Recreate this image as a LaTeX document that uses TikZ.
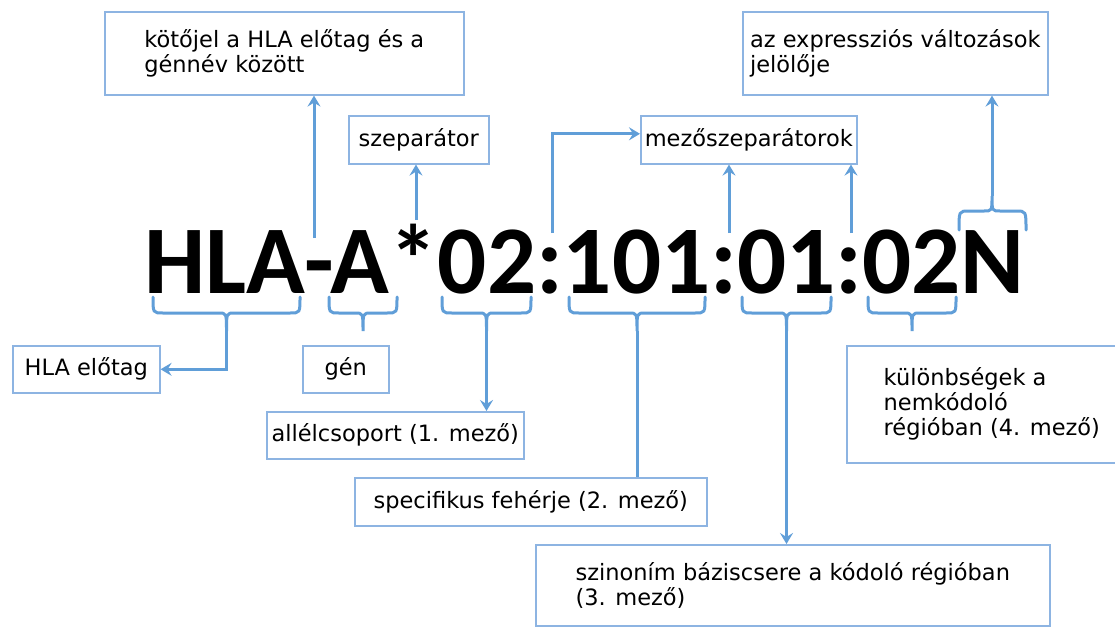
\documentclass[tikz,border=0pt]{standalone}
\usepackage{fontspec}
\setmainfont{DejaVu Sans}
\newfontfamily\codefont{Carlito}
\usetikzlibrary{arrows.meta}
\definecolor{lineBlue}{RGB}{96,158,216}
\definecolor{boxBlue}{RGB}{141,180,226}

\begin{document}
\begin{tikzpicture}[x=1pt,y=-1pt,
  box/.style={draw=boxBlue,line width=1.6pt,align=left,inner sep=0pt,anchor=north west,
    font=\fontsize{22.5pt}{25pt}\selectfont},
  link/.style={draw=lineBlue,line width=3pt},
  arrowLink/.style={link,-{Stealth[length=11pt,width=13pt,inset=4pt]}},
  brace/.style={draw=lineBlue,line width=3pt,line cap=round}]
   \newcommand{\lowBrace}[3]{
        \pgfmathsetmacro{\braceMid}{(#1+#2)/2}
        \draw[brace] (#1,297) .. controls (#1,313) .. (#1+10,313) -- (\braceMid-8,313)
            .. controls (\braceMid,313) .. (\braceMid,331)
            .. controls (\braceMid,313) .. (\braceMid+8,313)
            -- (#2-10,313) .. controls (#2,313) .. (#2,297);
        \coordinate (#3) at (\braceMid,331);
    }
  \fill[white,use as bounding box] (0,0) rectangle (1115,626);

  \node[box,minimum width=359pt,minimum height=83pt] (hyphenNote) at (104,11)
    {kötőjel a HLA előtag és a\\génnév között};
  \node[box,minimum width=140pt,minimum height=48pt] (sepNote) at (348,115) {szeparátor};
  \node[box,minimum width=216pt,minimum height=48pt] (fieldSepNote) at (640,115) {mezőszeparátorok};
  \node[box,minimum width=305pt,minimum height=83pt] (exprNote) at (742,11)
    {az expressziós változások\\jelölője};
  \node[box,minimum width=147pt,minimum height=47pt] (prefixNote) at (12,345) {HLA előtag};
  \node[box,minimum width=86pt,minimum height=47pt] (geneNote) at (302,345) {gén};
  \node[box,minimum width=257pt,minimum height=47pt] (groupNote) at (266,411) {allélcsoport (1. mező)};
  \node[box,minimum width=352pt,minimum height=48pt] (proteinNote) at (354,477) {specifikus fehérje (2. mező)};
  \node[box,minimum width=514pt,minimum height=81pt] (synNote) at (535,544)
    {szinoním báziscsere a kódoló régióban\\(3. mező)};
  \node[box,minimum width=290pt,minimum height=117pt] (nonCodNote) at (846,345)
    {különbségek a\\nemkódoló\\régióban (4. mező)};

  \node[anchor=base west,inner sep=0pt,font=\codefont\bfseries\fontsize{97pt}{100pt}\selectfont]
    (code) at (144,293) {HLA-A*02:101:01:02N};

  \coordinate (hyphenTop) at (314,238);
  \coordinate (starTop) at (416,220);
  \coordinate (colonA) at (552,233);
  \coordinate (colonB) at (729,233);
  \coordinate (colonC) at (851,233);

  \lowBrace{153}{300}{prefixTip}
  \lowBrace{329}{397}{geneTip}
  \lowBrace{442}{531}{groupTip}
  \lowBrace{569}{705}{proteinTip}
  \lowBrace{742}{831}{synTip}
  \lowBrace{868}{956}{nonCodTip}
  \draw[brace] (959,230) .. controls (959,211) .. (969,211) -- (984,211)
      .. controls (992,211) .. (992,196) .. controls (992,211) .. (1000,211)
      -- (1016,211) .. controls (1026,211) .. (1026,230);
  \coordinate (exprTip) at (992,196);

  \draw[arrowLink] (hyphenTop) -- (hyphenTop |- hyphenNote.south);
  \draw[arrowLink] (starTop) -- (starTop |- sepNote.south);
  \draw[arrowLink] (colonA) |- ([yshift=6pt]fieldSepNote.west);
  \draw[arrowLink] (colonB) -- (colonB |- fieldSepNote.south);
  \draw[arrowLink] (colonC) -- (colonC |- fieldSepNote.south);
  \draw[arrowLink] (exprTip) -- (exprTip |- exprNote.south);
  \draw[arrowLink] (prefixTip) |- (prefixNote.east);
  \draw[arrowLink] (groupTip) -- (groupTip |- groupNote.north);
  \draw[link] (proteinTip) -- (proteinTip |- proteinNote.north);
  \draw[arrowLink] (synTip) -- (synTip |- synNote.north);

\end{tikzpicture}
\end{document}
